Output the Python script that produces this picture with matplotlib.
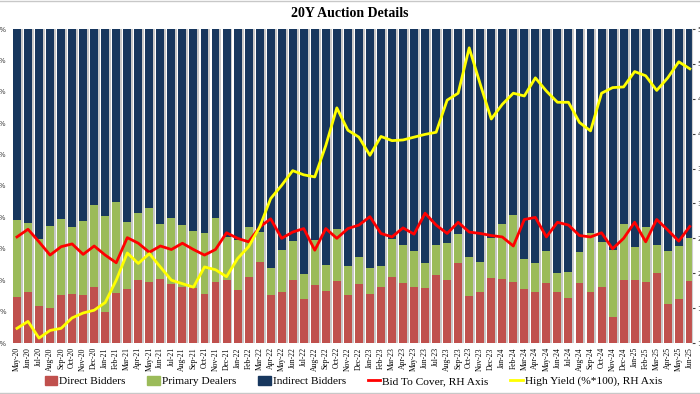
import matplotlib
matplotlib.use("Agg")
import matplotlib.pyplot as plt
import matplotlib.ticker as mticker
from matplotlib.patches import Patch
from matplotlib.lines import Line2D
import numpy as np

# auction months, May-20 .. Jun-25
months = ["May-20", "Jun-20", "Jul-20", "Aug-20", "Sep-20", "Oct-20", "Nov-20", "Dec-20",
          "Jan-21", "Feb-21", "Mar-21", "Apr-21", "May-21", "Jun-21", "Jul-21", "Aug-21",
          "Sep-21", "Oct-21", "Nov-21", "Dec-21", "Jan-22", "Feb-22", "Mar-22", "Apr-22",
          "May-22", "Jun-22", "Jul-22", "Aug-22", "Sep-22", "Oct-22", "Nov-22", "Dec-22",
          "Jan-23", "Feb-23", "Mar-23", "Apr-23", "May-23", "Jun-23", "Jul-23", "Aug-23",
          "Sep-23", "Oct-23", "Nov-23", "Dec-23", "Jan-24", "Feb-24", "Mar-24", "Apr-24",
          "May-24", "Jun-24", "Jul-24", "Aug-24", "Sep-24", "Oct-24", "Nov-24", "Dec-24",
          "Jan-25", "Feb-25", "Mar-25", "Apr-25", "May-25", "Jun-25"]

# direct bidders, % of allotment
direct = [14.7, 16.3, 11.9, 11.2, 15.3, 15.6, 15.3, 17.7, 10.0, 16.0, 17.1, 20.1,
          19.5, 20.3, 18.8, 17.9, 17.4, 15.6, 19.3, 20.1, 16.9, 20.9, 25.9, 15.3,
          16.3, 20.1, 13.9, 18.5, 16.7, 19.8, 15.3, 18.8, 15.6, 17.9, 21.1, 19.2,
          17.9, 17.4, 21.7, 20.1, 25.4, 15.0, 16.3, 20.6, 20.3, 19.5, 17.1, 16.3,
          19.0, 16.3, 14.4, 19.2, 16.3, 17.7, 8.2, 20.1, 20.1, 19.5, 22.4, 12.4,
          13.9, 19.8]

# direct + primary dealers (top of green segment), %
dir_plus_pd = [39.2, 38.3, 33.1, 37.4, 39.4, 37.0, 38.9, 43.9, 40.4, 45.0, 38.6, 41.3,
               43.1, 37.9, 39.7, 37.6, 35.7, 35.1, 39.7, 33.9, 32.8, 37.0, 35.4, 23.8,
               29.6, 32.6, 22.0, 32.8, 24.8, 36.2, 24.5, 27.5, 23.8, 24.6, 33.0, 31.2,
               29.4, 25.4, 31.2, 31.8, 34.7, 27.3, 25.9, 33.3, 37.9, 40.8, 26.6, 25.4,
               29.4, 22.2, 22.7, 29.1, 34.9, 32.3, 29.6, 37.9, 30.7, 36.8, 31.2, 29.4,
               30.9, 33.3]

bid_to_cover = [2.52, 2.63, 2.45, 2.26, 2.38, 2.42, 2.27, 2.39, 2.26, 2.15, 2.51, 2.43,
                2.30, 2.39, 2.34, 2.43, 2.34, 2.26, 2.34, 2.58, 2.50, 2.45, 2.66, 2.78,
                2.50, 2.59, 2.64, 2.33, 2.64, 2.50, 2.64, 2.69, 2.81, 2.57, 2.52, 2.65,
                2.56, 2.86, 2.69, 2.57, 2.73, 2.59, 2.57, 2.54, 2.52, 2.39, 2.77, 2.80,
                2.52, 2.73, 2.69, 2.54, 2.52, 2.58, 2.35, 2.50, 2.73, 2.45, 2.77, 2.62,
                2.46, 2.67]

high_yield = [1.21, 1.31, 1.07, 1.18, 1.21, 1.36, 1.43, 1.47, 1.58, 1.90, 2.29, 2.14,
              2.28, 2.09, 1.90, 1.85, 1.80, 2.09, 2.05, 1.95, 2.21, 2.38, 2.66, 3.07,
              3.26, 3.47, 3.41, 3.38, 3.83, 4.37, 4.05, 3.95, 3.69, 3.96, 3.90, 3.91,
              3.95, 3.99, 4.02, 4.48, 4.58, 5.23, 4.71, 4.21, 4.42, 4.58, 4.54, 4.80,
              4.61, 4.45, 4.45, 4.16, 4.04, 4.58, 4.66, 4.67, 4.89, 4.83, 4.62, 4.80,
              5.03, 4.93]

direct = np.array(direct) / 100
dir_plus_pd = np.array(dir_plus_pd) / 100
primary = dir_plus_pd - direct
indirect = 1 - dir_plus_pd

c_red = "#C0504D"
c_green = "#9BBB59"
c_navy = "#17375E"

serif = ["Liberation Serif", "DejaVu Serif"]

fig = plt.figure(figsize=(7, 3.94), dpi=100)
ax = fig.add_axes([12 / 700, 51 / 394, 680 / 700, 314 / 394])
x = np.arange(len(months))
w = 0.72

# soft grey shadow to the right of each column
ax.bar(x + 0.18, np.ones(len(x)), w, color="#c8c8c8", zorder=1)
ax.bar(x, direct, w, color=c_red, zorder=2)
ax.bar(x, primary, w, bottom=direct, color=c_green, zorder=2)
ax.bar(x, indirect, w, bottom=dir_plus_pd, color=c_navy, zorder=2)

ax.set_ylim(0, 1)
ax.set_xlim(-0.45, len(x) - 0.8)
ax.yaxis.set_major_locator(mticker.MultipleLocator(0.1))
ax.yaxis.set_major_formatter(mticker.PercentFormatter(1.0, decimals=0))
ax.set_xticks(x)
ax.set_xticklabels(months, rotation=90, fontsize=5.5, family=serif)
ax.tick_params(axis="y", labelsize=5, length=0, pad=4, colors="#404040")
ax.tick_params(axis="x", length=0, pad=3)
for s in ax.spines.values():
    s.set_visible(False)

ax2 = ax.twinx()
ax2.plot(x, bid_to_cover, color="#FF0000", lw=2, zorder=5)
ax2.plot(x, high_yield, color="#FFFF00", lw=2, zorder=6)
ax2.set_ylim(1.0, 5.5)
ax2.yaxis.set_major_locator(mticker.MultipleLocator(0.5))
ax2.yaxis.set_major_formatter(mticker.FormatStrFormatter("%.2f"))
ax2.tick_params(axis="y", labelsize=5, length=2, pad=2, colors="#404040")
for s in ax2.spines.values():
    s.set_visible(False)
ax2.spines["right"].set_visible(True)
ax2.spines["right"].set_color("#d0d0d0")

fig.text(0.5, 0.965, "20Y Auction Details", ha="center", va="center",
         fontsize=10, fontweight="bold", family=serif)

handles = [Patch(color=c_red), Patch(color=c_green), Patch(color=c_navy),
           Line2D([], [], color="#FF0000", lw=2), Line2D([], [], color="#FFFF00", lw=2)]
labels = ["Direct Bidders", "Primary Dealers", "Indirect Bidders",
          "Bid To Cover, RH Axis", "High Yield (%*100), RH Axis"]
fig.legend(handles, labels, loc="center", bbox_to_anchor=(0.505, 0.033), ncol=5,
           frameon=False, prop={"family": serif, "size": 8.2}, handlelength=1.1,
           handleheight=0.9, handletextpad=0.2, columnspacing=1.9)

# thin grey frame lines at top and bottom of the image
fig.add_artist(Line2D([0, 1], [0.998, 0.998], color="#c8c8c8", lw=1))
fig.add_artist(Line2D([0, 1], [0.002, 0.002], color="#c8c8c8", lw=1))

fig.savefig("out.png", dpi=100)
